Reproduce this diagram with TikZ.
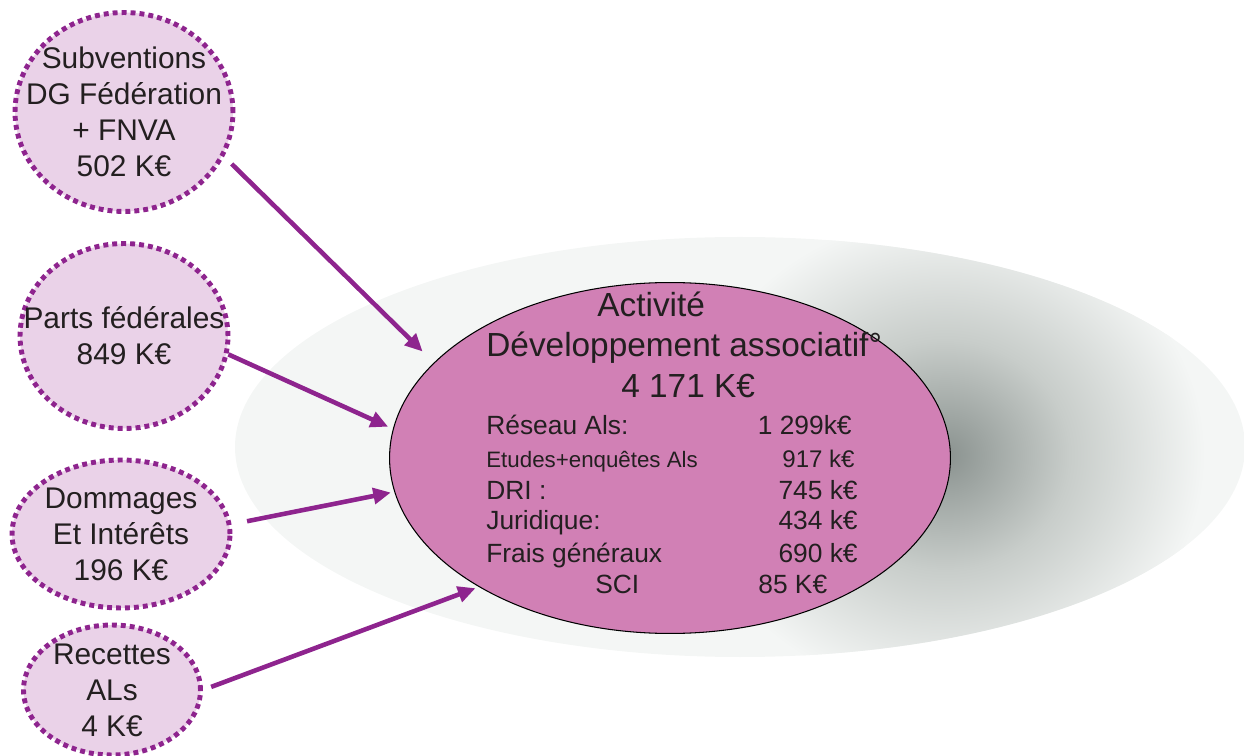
\documentclass[tikz,border=0pt]{standalone}
\usepackage{fontspec}
\setmainfont{Liberation Sans}
\usetikzlibrary{shapes.geometric,arrows.meta}

\definecolor{pinkfill}{RGB}{209,128,181}
\definecolor{purpleline}{RGB}{142,36,142}
\definecolor{lilac}{RGB}{234,210,232}
\definecolor{glowbg}{RGB}{244,246,245}
\definecolor{glowmid}{RGB}{200,205,202}
\definecolor{glowdark}{RGB}{138,146,143}
\definecolor{inktext}{RGB}{35,31,32}

% soft shadow behind the central ellipse
\pgfdeclareradialshading{glow}{\pgfpoint{0bp}{0bp}}{color(0bp)=(glowdark); color(12bp)=(glowmid); color(25bp)=(glowbg); color(50bp)=(glowbg)}

\begin{document}
\begin{tikzpicture}[x=0.02cm, y=-0.02cm,
    source/.style={ellipse, draw=purpleline, fill=lilac, line width=2.8pt,
        dash pattern=on 2.8pt off 2.3pt, inner sep=0pt},
    srctext/.style={align=center, inner sep=0pt, text=inktext,
        font=\fontsize{17}{20.5}\selectfont},
    title/.style={inner sep=0pt, text=inktext, font=\fontsize{19}{23}\selectfont},
    rowtxt/.style={inner sep=0pt, text=inktext, font=\fontsize{15}{18}\selectfont},
    flow/.style={draw=purpleline, line width=2.6pt, -{Triangle[length=10pt,width=9pt]}}]
    \useasboundingbox (0,0) rectangle (1244,756);

    % shadow
    \fill[glowbg] (740,447) ellipse [x radius=505, y radius=210];
    \begin{scope}
        \clip (740,447) ellipse [x radius=505, y radius=210];
        \shade[shading=glow] (945,455) ellipse [x radius=260, y radius=240];
    \end{scope}

    % central activity
    \node[ellipse, draw=black, line width=0.6pt, fill=pinkfill,
        minimum width=11.22cm, minimum height=7.02cm] (act) at (670,458) {};
    \node[title, anchor=base west] (t1) at (597,317) {Activité};
    \node[title, anchor=base west] (t2) at (486,357) {Développement associatif°};
    \node[title, anchor=base west] (t3) at (621,398) {4 171 K€};

    \node[rowtxt, anchor=base west] (r1) at (486,435) {Réseau Als:};
    \node[rowtxt, anchor=base east] (v1) at (852,435) {1 299k€};
    \node[rowtxt, font=\fontsize{12.7}{15}\selectfont, anchor=base west] (r2) at (486,468) {Etudes+enquêtes Als};
    \node[rowtxt, font=\fontsize{13.7}{16}\selectfont, anchor=base east] (v2) at (855,468) {917 k€};
    \node[rowtxt, anchor=base west] (r3) at (486,500) {DRI :};
    \node[rowtxt, anchor=base east] (v3) at (858,500) {745 k€};
    \node[rowtxt, anchor=base west] (r4) at (486,530) {Juridique:};
    \node[rowtxt, anchor=base east] (v4) at (858,530) {434 k€};
    \node[rowtxt, anchor=base west] (r5) at (486,562) {Frais généraux};
    \node[rowtxt, anchor=base east] (v5) at (858,562) {690 k€};
    \node[rowtxt, anchor=base west] (r6) at (595,593) {SCI};
    \node[rowtxt, anchor=base west] (v6) at (758,593) {85 K€};

    % resources
    \node[source, minimum width=4.36cm, minimum height=3.98cm] (sub) at (124,112) {};
    \node[srctext] (subtxt) at (sub) {Subventions\\DG Fédération\\+ FNVA\\502 K€};
    \node[source, minimum width=4.16cm, minimum height=3.7cm] (parts) at (124,336) {};
    \node[srctext] (partstxt) at (parts) {Parts fédérales\\849 K€};
    \node[source, minimum width=4.36cm, minimum height=2.96cm] (dom) at (121,534) {};
    \node[srctext] (domtxt) at (dom) {Dommages\\Et Intérêts\\196 K€};
    \node[source, minimum width=3.54cm, minimum height=2.6cm] (rec) at (112,690) {};
    \node[srctext] (rectxt) at (rec) {Recettes\\ALs\\4 K€};

    % arrows
    \draw[flow, shorten <=6pt, shorten >=9pt] (sub.-24) -- (act.158);
    \draw[flow, shorten >=3pt] (parts.-10) -- (act.174);
    \draw[flow, shorten <=9pt, shorten >=2pt] (dom.5) -- (act.187);
    \draw[flow, shorten <=5pt, shorten >=2pt] (rec.east) -- (act.214);
\end{tikzpicture}
\end{document}
